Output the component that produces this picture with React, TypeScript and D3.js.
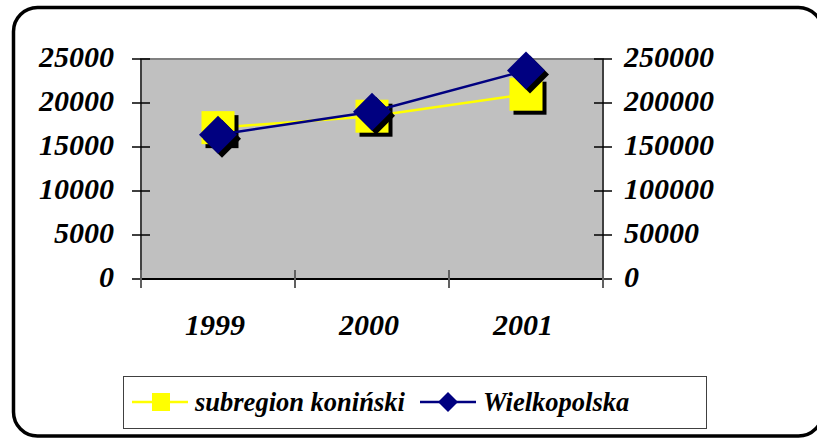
import React from "react";
import { scaleBand, scaleLinear, line } from "d3";

const years = ["1999", "2000", "2001"];
const subregion = [17200, 18500, 21000];
const wielkopolska = [164000, 190000, 237000];
const leftTicks = [0, 5000, 10000, 15000, 20000, 25000];
const rightTicks = [0, 50000, 100000, 150000, 200000, 250000];
const seriesNames = ["subregion koniński", "Wielkopolska"];

const FONT = "Liberation Serif";

const Label = (props: any) => (
  <text fontFamily={FONT} fontWeight="bold" fontStyle="italic" fill="#000" {...props} />
);

const App = () => {
  const left = 141, right = 603, top = 59, bottom = 279;

  const x = scaleBand().domain(years).range([left, right]).padding(0);
  const yL = scaleLinear().domain([0, 25000]).range([bottom, top]);
  const yR = scaleLinear().domain([0, 250000]).range([bottom, top]);
  const cx = (d: string) => (x(d) as number) + x.bandwidth() / 2;

  const subPts: [number, number][] = years.map((y, i) => [cx(y), yL(subregion[i])]);
  const wlkPts: [number, number][] = years.map((y, i) => [cx(y), yR(wielkopolska[i])]);
  const path = line();

  const sq = 33;
  const dm = 19; // diamond half-size
  const diamond = (px: number, py: number, r: number) =>
    `M${px},${py - r}L${px + r},${py}L${px},${py + r}L${px - r},${py}Z`;

  const xTicks = [left, ...years.map((y) => (x(y) as number) + x.bandwidth())];

  return (
    <svg width={817} height={440} style={{ position: "absolute", left: 0, top: 0 }}>
      <rect x={0} y={0} width={817} height={440} fill="#fff" />
      <rect x={13.5} y={7.5} width={809} height={428.5} rx={24} ry={24}
        fill="#fff" stroke="#000" strokeWidth={3.5} />

      {/* plot area */}
      <rect x={left} y={top} width={right - left} height={bottom - top}
        fill="#c0c0c0" stroke="#808080" strokeWidth={2} />

      {/* axes */}
      <line x1={left} x2={left} y1={top} y2={bottom} stroke="#404040" strokeWidth={2} />
      <line x1={right} x2={right} y1={top} y2={bottom} stroke="#404040" strokeWidth={2} />
      <line x1={left} x2={right} y1={bottom} y2={bottom} stroke="#000" strokeWidth={2} />

      {leftTicks.map((t) => (
        <g key={"l" + t}>
          <line x1={left - 9} x2={left + 9} y1={yL(t)} y2={yL(t)} stroke="#000" strokeWidth={1.5} />
          <Label x={114} y={yL(t) + 8} textAnchor="end" fontSize={30}>{t}</Label>
        </g>
      ))}
      {rightTicks.map((t) => (
        <g key={"r" + t}>
          <line x1={right - 9} x2={right + 9} y1={yR(t)} y2={yR(t)} stroke="#000" strokeWidth={1.5} />
          <Label x={624} y={yR(t) + 8} textAnchor="start" fontSize={30}>{t}</Label>
        </g>
      ))}
      {xTicks.map((t, i) => (
        <line key={"x" + i} x1={t} x2={t} y1={bottom - 9} y2={bottom + 9} stroke="#606060" strokeWidth={2} />
      ))}
      {years.map((y) => (
        <Label key={y} x={cx(y) - 3} y={335} textAnchor="middle" fontSize={30}>{y}</Label>
      ))}

      {/* subregion series */}
      <path d={path(subPts) || ""} fill="none" stroke="#ffff00" strokeWidth={2.5} />
      {subPts.map(([px, py], i) => (
        <g key={"s" + i}>
          <rect x={px - sq / 2 + 4} y={py - sq / 2 + 4} width={sq} height={sq} fill="#000" />
          <rect x={px - sq / 2} y={py - sq / 2} width={sq} height={sq} fill="#ffff00" />
        </g>
      ))}

      {/* Wielkopolska series */}
      <path d={path(wlkPts) || ""} fill="none" stroke="#000080" strokeWidth={2.5} />
      {wlkPts.map(([px, py], i) => (
        <g key={"w" + i}>
          <path d={diamond(px + 4, py + 4, dm)} fill="#000" />
          <path d={diamond(px, py, dm)} fill="#000080" />
        </g>
      ))}

      {/* legend */}
      <rect x={123.5} y={376.5} width={583} height={52} fill="#fff" stroke="#404040" strokeWidth={1} />
      <line x1={132} x2={188} y1={402} y2={402} stroke="#ffff00" strokeWidth={2.5} />
      <rect x={161 - 9} y={402 - 9} width={18} height={18} fill="#ffff00" />
      <Label x={195} y={411} fontSize={26.5}>{seriesNames[0]}</Label>
      <line x1={420} x2={476} y1={402} y2={402} stroke="#000080" strokeWidth={2.5} />
      <path d={diamond(448, 402, 10)} fill="#000080" />
      <Label x={483} y={411} fontSize={26.5}>{seriesNames[1]}</Label>
    </svg>
  );
};

export default App;
